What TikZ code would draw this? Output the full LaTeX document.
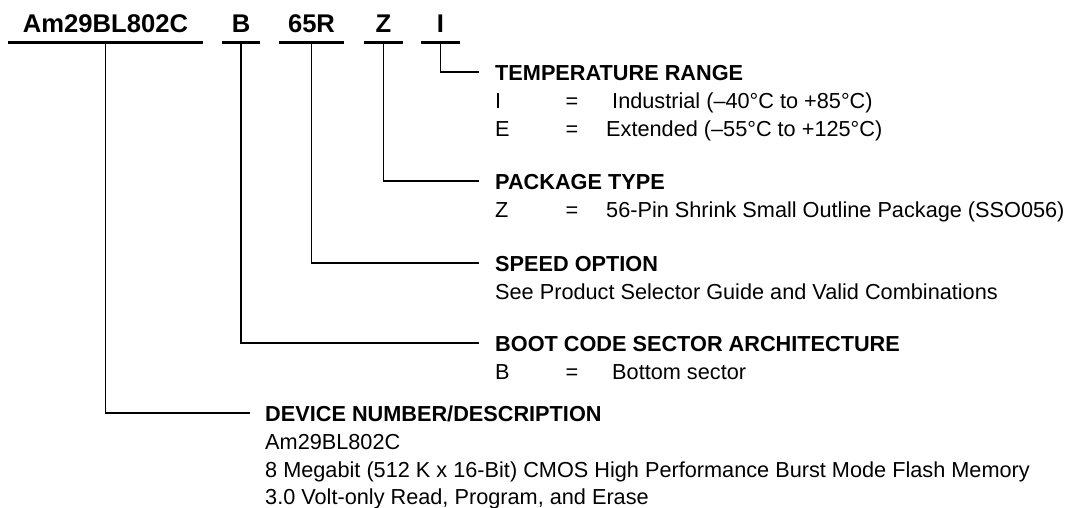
\documentclass[tikz,border=0pt]{standalone}
\usepackage{fontspec}
\setmainfont{Liberation Sans}
\begin{document}
\begin{tikzpicture}[x=1pt,y=-1pt,
  codebox/.style={inner sep=0pt, anchor=base, font=\fontsize{25.6}{30}\selectfont\bfseries, text height=18pt, text depth=10pt},
  bar/.style={line width=3pt},
  conn/.style={line width=1.6pt},
  head/.style={inner sep=0pt, anchor=base west, font=\fontsize{21.7}{26}\selectfont\bfseries, text height=15.5pt, text depth=0pt},
  body/.style={inner sep=0pt, anchor=base west, font=\fontsize{21.7}{28}\selectfont},
  eqsign/.style={inner sep=0pt, anchor=base, font=\fontsize{21.7}{28}\selectfont}
]
\useasboundingbox (0,0) rectangle (1070,507);

% part-number codes
\node[codebox, minimum width=195pt] (cA) at (105.5,32) {Am29BL802C};
\node[codebox, minimum width=38pt]  (cB) at (241,32) {B};
\node[codebox, minimum width=65pt]  (cS) at (311.5,32) {65R};
\node[codebox, minimum width=39pt]  (cZ) at (383.5,32) {Z};
\node[codebox, minimum width=39pt]  (cI) at (440.5,32) {I};
\foreach \n in {cA,cB,cS,cZ,cI}
  \draw[bar] (\n.south west) -- (\n.south east);

% TEMPERATURE RANGE
\node[head] (hT) at (495,80) {TEMPERATURE RANGE};
\node[body] (tk1) at (495,108) {I};
\node[eqsign] (te1) at (572,108) {=};
\node[body] (tv1) at (606,108) {\ Industrial (–40°C to +85°C)};
\node[body] (tk2) at (495,136) {E};
\node[eqsign] (te2) at (572,136) {=};
\node[body] (tv2) at (606,136) {Extended (–55°C to +125°C)};

% PACKAGE TYPE
\node[head] (hP) at (495,189) {PACKAGE TYPE};
\node[body] (pk1) at (495,217) {Z};
\node[eqsign] (pe1) at (572,217) {=};
\node[body] (pv1) at (606,217) {56-Pin Shrink Small Outline Package (SSO056)};

% SPEED OPTION
\node[head] (hS) at (495,271) {SPEED OPTION};
\node[body] (sv1) at (495,299) {See Product Selector Guide and Valid Combinations};

% BOOT CODE
\node[head] (hB) at (495,351) {BOOT CODE SECTOR ARCHITECTURE};
\node[body] (bk1) at (495,379) {B};
\node[eqsign] (be1) at (572,379) {=};
\node[body] (bv1) at (606,379) {\ Bottom sector};

% DEVICE NUMBER
\node[head] (hD) at (265,421) {DEVICE NUMBER/DESCRIPTION};
\node[body] (d1) at (265,449) {Am29BL802C};
\node[body] (d2) at (265,477) {8 Megabit (512 K x 16-Bit) CMOS High Performance Burst Mode Flash Memory};
\node[body] (d3) at (265,504) {3.0 Volt-only Read, Program, and Erase};

% connectors
\draw[conn] (cI.south) |- ([xshift=-16pt]hT.west);
\draw[conn] (cZ.south) |- ([xshift=-16pt]hP.west);
\draw[conn] (cS.south) |- ([xshift=-16pt]hS.west);
\draw[conn] (cB.south) |- ([xshift=-16pt]hB.west);
\draw[conn] (cA.south) |- ([xshift=-15pt]hD.west);
\end{tikzpicture}
\end{document}
